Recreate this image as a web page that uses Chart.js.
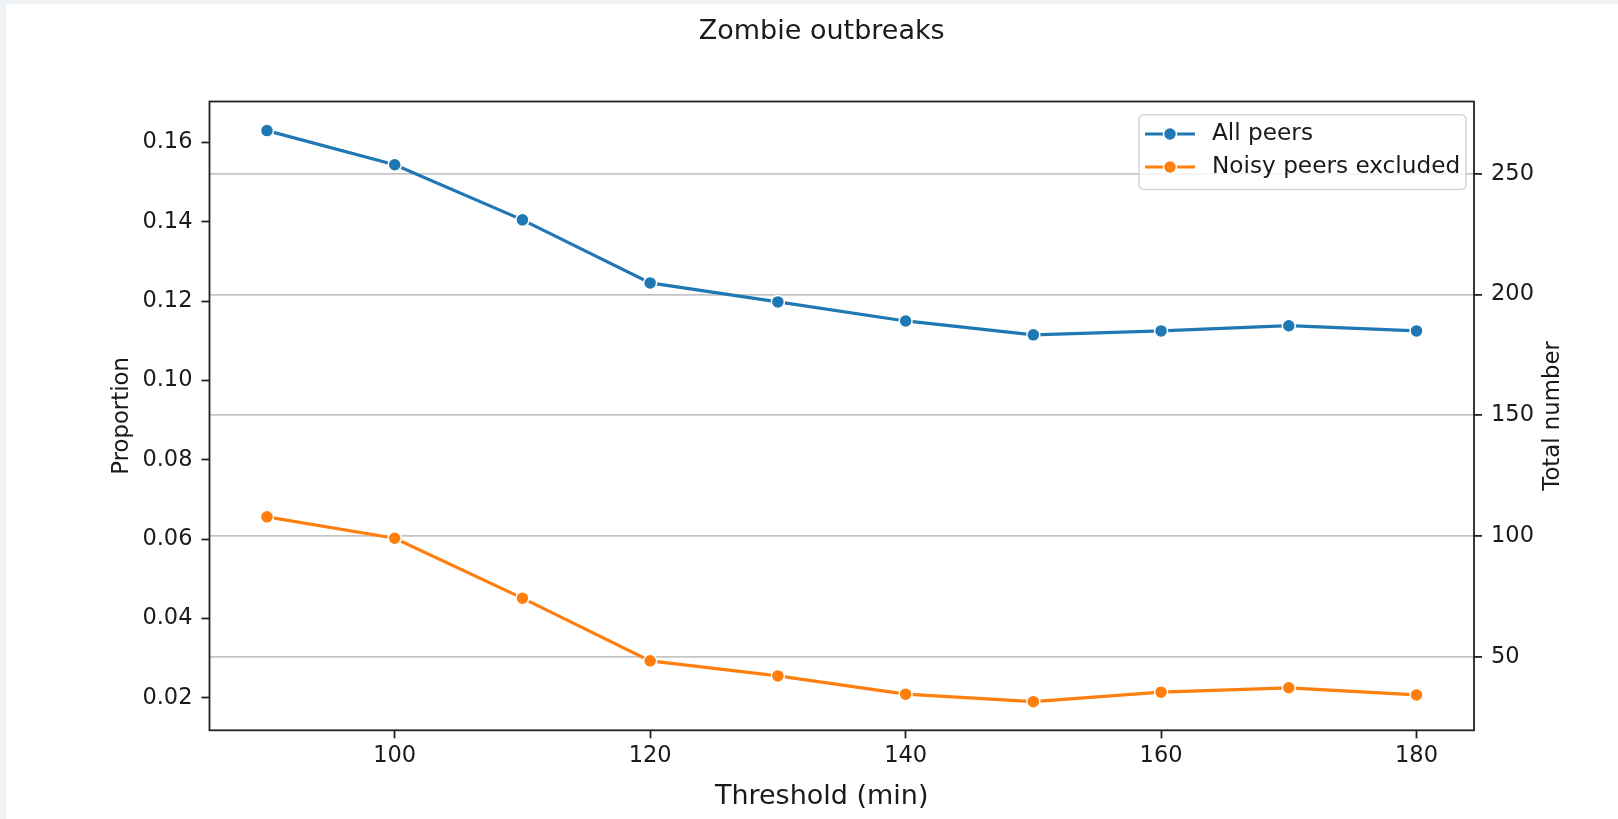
<!DOCTYPE html>
<html>
<head>
<meta charset="utf-8">
<script src="https://cdn.jsdelivr.net/npm/chart.js@4.4.1/dist/chart.umd.min.js"></script>
<style>
  html, body { margin: 0; padding: 0; background: #eff3f5; }
  #wrap { position: absolute; left: 6px; top: 4px; width: 1612px; height: 815px; background: #fff; }
  canvas { display: block; }
</style>
</head>
<body>
<div id="wrap"><canvas id="myChart" width="1612" height="815"></canvas></div>
<script>
  // data
  const thresholds = [90, 100, 110, 120, 130, 140, 150, 160, 170, 180];
  const allPeers = [0.1630, 0.1544, 0.1405, 0.1246, 0.1198, 0.1150, 0.1115, 0.1125, 0.1138, 0.1125];
  const noisyExcluded = [0.0656, 0.0602, 0.0451, 0.0293, 0.0255, 0.0209, 0.0190, 0.0214, 0.0225, 0.0207];
  const seriesNames = ["All peers", "Noisy peers excluded"];

  const xTicks = [100, 120, 140, 160, 180];
  const propTicks = [0.02, 0.04, 0.06, 0.08, 0.10, 0.12, 0.14, 0.16];
  const totalTicks = [50, 100, 150, 200, 250];

  const FONT = "'DejaVu Sans', sans-serif";
  const INK = "#1a1a1a";
  const BLUE = "#1f77b4";
  const ORANGE = "#ff7f0e";
  const FIG_CENTER = 815.7; // matplotlib centres the title and xlabel on the figure

  const toPoints = (vals) => vals.map((v, i) => ({ x: thresholds[i], y: v }));

  // title, frame, axis titles and the legend drawn inside the plot
  const extras = {
    id: "extras",
    afterDraw(chart) {
      const { ctx, chartArea: a } = chart;
      ctx.save();

      // box around the plot
      ctx.strokeStyle = "#222";
      ctx.lineWidth = 1.8;
      ctx.strokeRect(a.left, a.top, a.right - a.left, a.bottom - a.top);

      ctx.fillStyle = INK;
      ctx.textAlign = "center";
      ctx.textBaseline = "middle";
      ctx.font = "27px " + FONT;
      ctx.fillText("Zombie outbreaks", FIG_CENTER, 28);
      ctx.fillText("Threshold (min)", FIG_CENTER, 793);

      // right title, reading bottom to top
      ctx.font = "22.8px " + FONT;
      ctx.translate(1547, (a.top + a.bottom) / 2);
      ctx.rotate(-Math.PI / 2);
      ctx.fillText("Total number", 0, 0);
      ctx.setTransform(1, 0, 0, 1, 0, 0);

      // legend
      const bx = a.right - 335, by = a.top + 13.2, bw = 327, bh = 74.8;
      ctx.beginPath();
      ctx.roundRect(bx, by, bw, bh, 5);
      ctx.fillStyle = "rgba(255,255,255,0.8)";
      ctx.fill();
      ctx.strokeStyle = "#d4d4d4";
      ctx.lineWidth = 1.5;
      ctx.stroke();

      chart.data.datasets.forEach((ds, i) => {
        const cy = by + 19.3 + i * 33;
        const x0 = bx + 6;
        ctx.strokeStyle = ds.borderColor;
        ctx.lineWidth = 3;
        ctx.beginPath();
        ctx.moveTo(x0, cy);
        ctx.lineTo(x0 + 50, cy);
        ctx.stroke();
        ctx.beginPath();
        ctx.arc(x0 + 25, cy, 6.5, 0, Math.PI * 2);
        ctx.fillStyle = ds.backgroundColor;
        ctx.fill();
        ctx.strokeStyle = "#fff";
        ctx.lineWidth = 1.5;
        ctx.stroke();

        ctx.fillStyle = INK;
        ctx.font = "23.2px " + FONT;
        ctx.textAlign = "left";
        ctx.textBaseline = "middle";
        ctx.fillText(ds.label, x0 + 67, cy);
      });
      ctx.restore();
    }
  };

  const ctx = document.getElementById("myChart").getContext("2d");

  new Chart(ctx, {
    type: "line",
    data: {
      datasets: [
        {
          label: seriesNames[0],
          data: toPoints(allPeers),
          borderColor: BLUE,
          backgroundColor: BLUE,
          borderWidth: 3.2,
          pointRadius: 6.5,
          pointBorderColor: "#fff",
          pointBorderWidth: 1.5,
          pointBackgroundColor: BLUE,
          yAxisID: "y",
        },
        {
          label: seriesNames[1],
          data: toPoints(noisyExcluded),
          borderColor: ORANGE,
          backgroundColor: ORANGE,
          borderWidth: 3.2,
          pointRadius: 6.5,
          pointBorderColor: "#fff",
          pointBorderWidth: 1.5,
          pointBackgroundColor: ORANGE,
          yAxisID: "y",
        },
      ],
    },
    options: {
      responsive: false,
      animation: false,
      devicePixelRatio: 1,
      layout: { padding: { top: 97.5, left: 0, right: 0, bottom: 0 } },
      plugins: {
        legend: { display: false },
        tooltip: { enabled: false },
        title: { display: false },
      },
      scales: {
        x: {
          type: "linear",
          min: 85.5,
          max: 184.5,
          afterBuildTicks: (s) => { s.ticks = xTicks.map((v) => ({ value: v })); },
          afterFit: (s) => { s.height = 88.7; },
          border: { display: false },
          grid: {
            drawOnChartArea: false,
            drawTicks: true,
            tickLength: 8,
            tickColor: "#222",
            tickWidth: 1.8,
          },
          ticks: {
            color: INK,
            padding: 4.5,
            maxRotation: 0,
            font: { family: FONT, size: 22.5 },
            callback: (v) => String(v),
          },
        },
        y: {
          type: "linear",
          position: "left",
          min: 0.01178,
          max: 0.17034,
          afterBuildTicks: (s) => { s.ticks = propTicks.map((v) => ({ value: v })); },
          afterFit: (s) => { s.width = 203.5; },
          border: { display: false },
          grid: {
            drawOnChartArea: false,
            drawTicks: true,
            tickLength: 8,
            tickColor: "#222",
            tickWidth: 1.8,
          },
          ticks: {
            color: INK,
            padding: 9,
            font: { family: FONT, size: 22.5 },
            callback: (v) => v.toFixed(2),
          },
          title: {
            display: true,
            text: "Proportion",
            color: INK,
            font: { family: FONT, size: 22.8 },
            padding: { top: 102, bottom: 0 },
          },
        },
        y2: {
          type: "linear",
          position: "right",
          min: 19.5,
          max: 280,
          afterBuildTicks: (s) => { s.ticks = totalTicks.map((v) => ({ value: v })); },
          afterFit: (s) => { s.width = 144; },
          border: { display: false },
          grid: {
            drawOnChartArea: true,
            color: "#c4c4c4",
            lineWidth: 1.8,
            drawTicks: true,
            tickLength: 8,
            tickColor: "#222",
            tickWidth: 1.8,
          },
          ticks: {
            color: INK,
            padding: 9,
            font: { family: FONT, size: 22.5 },
            callback: (v) => String(v),
          },
        },
      },
    },
    plugins: [extras],
  });
</script>
</body>
</html>
